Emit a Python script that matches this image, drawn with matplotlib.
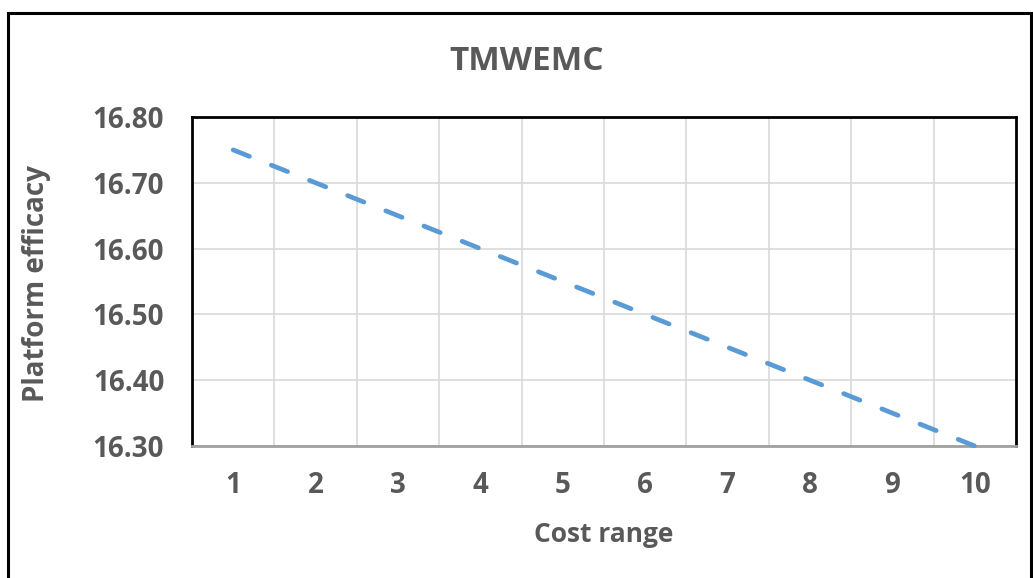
import matplotlib
matplotlib.use("Agg")
import matplotlib.pyplot as plt
from matplotlib.patches import Rectangle

categories = [1, 2, 3, 4, 5, 6, 7, 8, 9, 10]
efficacy = [16.75, 16.70, 16.65, 16.60, 16.55, 16.50, 16.45, 16.40, 16.35, 16.30]
yticks = [16.30, 16.40, 16.50, 16.60, 16.70, 16.80]
title = "TMWEMC"
xlabel = "Cost range"
ylabel = "Platform efficacy"

W, H = 1033, 578
fig = plt.figure(figsize=(W / 100, H / 100), dpi=100)
plt.rcParams['font.family'] = ['Open Sans', 'DejaVu Sans']
txt = '#595959'

ax = fig.add_axes([192 / W, 1 - 446 / H, (1016 - 192) / W, (446 - 117) / H])
ax.plot(categories, efficacy, color='#5B9BD5', lw=3.4, linestyle=(0, (3.7, 5.0)),
        dash_capstyle='round', zorder=3, clip_on=False)
ax.set_xlim(0.5, 10.5)
ax.set_ylim(16.30, 16.80)
ax.set_yticks(yticks)
ax.set_yticklabels([f"{v:.2f}" for v in yticks])
ax.set_xticks(categories)
ax.set_xticklabels([str(c) for c in categories])
ax.set_xticks([c + 0.5 for c in [0] + categories], minor=True)
ax.grid(False)
ax.grid(True, which='minor', axis='x', color='#D9D9D9', lw=1.2)
ax.grid(True, which='major', axis='y', color='#D9D9D9', lw=1.2)
ax.set_axisbelow(True)
ax.tick_params(which='both', length=0)
ax.tick_params(axis='y', pad=20, labelsize=20, labelcolor=txt)
ax.tick_params(axis='x', pad=18, labelsize=20, labelcolor=txt)
for lab in ax.get_xticklabels() + ax.get_yticklabels():
    lab.set_fontweight('bold')
for s in ['left', 'right', 'top']:
    ax.spines[s].set_color('black')
    ax.spines[s].set_linewidth(2)
ax.spines['bottom'].set_color('#A0A0A0')
ax.spines['bottom'].set_linewidth(2)

fig.text(527 / W, 1 - 61 / H, title, ha='center', va='center', fontsize=24,
         fontweight='bold', color=txt)
fig.text(604 / W, 1 - 535 / H, xlabel, ha='center', va='center', fontsize=19,
         fontweight='bold', color=txt)
fig.text(37 / W, 1 - 284 / H, ylabel, ha='center', va='center', fontsize=20,
         fontweight='bold', color=txt, rotation=90)

fig.patches.append(Rectangle((8 / W, -0.05), (1031 - 8) / W, 1.05 - 13 / H,
                             transform=fig.transFigure, fill=False,
                             edgecolor='black', lw=2.2))

fig.savefig('out.png', dpi=100)
